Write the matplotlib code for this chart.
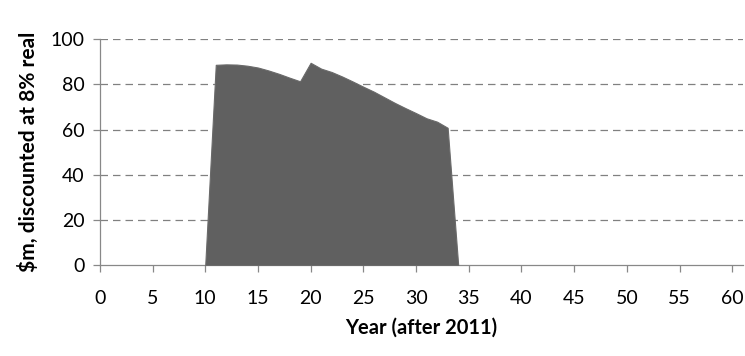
import matplotlib.pyplot as plt

plt.rcParams['font.family'] = ['Lato', 'DejaVu Sans']

# discounted value by year after 2011
years = [10, 11, 12, 13, 14, 15, 16, 17, 18, 19, 20, 21, 22, 23, 24, 25, 26,
         27, 28, 29, 30, 31, 32, 33, 34]
value = [0, 88.7, 88.9, 88.8, 88.3, 87.5, 86.2, 84.7, 83.0, 81.4, 89.6, 87.0,
         85.5, 83.5, 81.3, 79.0, 76.8, 74.3, 71.8, 69.5, 67.3, 65.0, 63.5,
         60.8, 0]

fig = plt.figure(figsize=(7.45, 3.56), dpi=100)
ax = fig.add_axes([0.134, 0.2556, 0.863, 0.634])

ax.fill_between(years, value, 0, color='#606060', linewidth=0.8,
                edgecolor='#6a6a6a', zorder=3)

ax.set_xlim(0, 61)
ax.set_ylim(0, 100)
ax.set_xticks(range(0, 61, 5))
ax.set_yticks(range(0, 101, 20))

for y in range(20, 101, 20):
    ax.axhline(y, color='#808080', linestyle=(0, (6, 4)), linewidth=0.9, zorder=1)

for s in ['top', 'right']:
    ax.spines[s].set_visible(False)
for s in ['left', 'bottom']:
    ax.spines[s].set_color('#888888')
    ax.spines[s].set_linewidth(0.9)

ax.tick_params(axis='both', colors='#888888', length=5, width=0.9,
               labelcolor='black', labelsize=14)
ax.tick_params(axis='x', pad=13)
ax.tick_params(axis='y', pad=6)

ax.set_xlabel('Year (after 2011)', fontsize=14.5, fontweight='bold', labelpad=8)
ax.set_ylabel('$m, discounted at 8% real', fontsize=15, fontweight='bold',
              labelpad=8)

fig.savefig('out.png', dpi=100)
